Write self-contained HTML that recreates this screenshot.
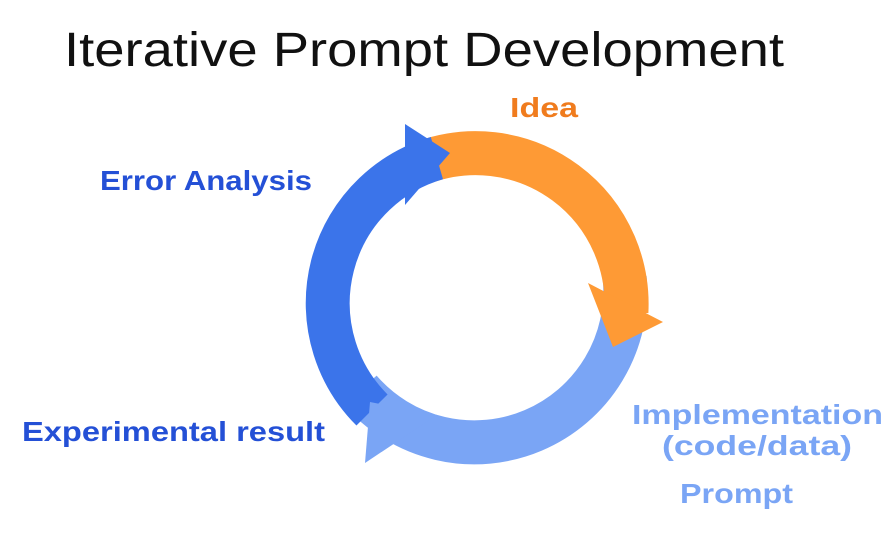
<!DOCTYPE html>
<html><head><style>html,body{margin:0;padding:0;background:#fff}svg{display:block}</style></head>
<body>
<svg width="895" height="554" viewBox="0 0 895 554" xmlns="http://www.w3.org/2000/svg">
<rect width="895" height="554" fill="#fff"/>
<text x="64" y="66" font-family="Liberation Sans, sans-serif" font-size="48" fill="#111" textLength="720" lengthAdjust="spacingAndGlyphs">Iterative Prompt Development</text>
<g fill="none" stroke-width="44">
<path d="M624.7,277.8 A151,151 0 0 1 360,390" stroke="#7aa5f5"/>
<path d="M424.4,162.1 A151,151 0 0 1 626.4,312" stroke="#fe9a35"/>
<polygon points="588,283 663,322 613,347" fill="#fe9a35" stroke="none"/>
<path d="M372,410 A151,151 0 0 1 436.9,158.1" stroke="#3b74ea"/>
<polygon points="370,402 437,415 365,463" fill="#7aa5f5" stroke="none"/>
<polygon points="405,124 450,153 405,205" fill="#3b74ea" stroke="none"/>
</g>
<g font-family="Liberation Sans, sans-serif" font-weight="bold" font-size="28">
<text x="510" y="117" fill="#f07c1e" textLength="68" lengthAdjust="spacingAndGlyphs">Idea</text>
<text x="100" y="190" fill="#2450d6" textLength="212" lengthAdjust="spacingAndGlyphs">Error Analysis</text>
<text x="22" y="441" fill="#2450d6" textLength="303" lengthAdjust="spacingAndGlyphs">Experimental result</text>
<text x="632" y="424" fill="#7aa5f5" textLength="251" lengthAdjust="spacingAndGlyphs">Implementation</text>
<text x="662" y="455" fill="#7aa5f5" textLength="190" lengthAdjust="spacingAndGlyphs">(code/data)</text>
<text x="680" y="503" fill="#7aa5f5" textLength="113" lengthAdjust="spacingAndGlyphs">Prompt</text>
</g>
</svg>
</body></html>
